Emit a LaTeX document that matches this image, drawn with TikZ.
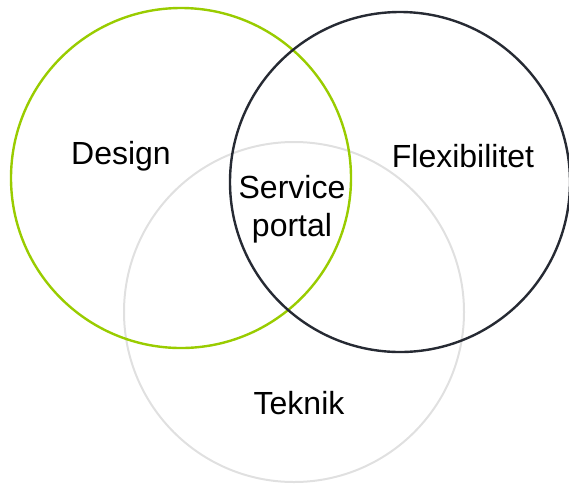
\documentclass[tikz,border=0pt]{standalone}
\usepackage{fontspec}
\setmainfont{Liberation Sans}
\usepackage{xcolor}
\definecolor{designgreen}{RGB}{153,204,0}
\definecolor{flexdark}{RGB}{38,42,51}
\definecolor{teknikgray}{RGB}{224,224,224}
\tikzset{
  ring/.style={circle,draw,minimum size=340pt,inner sep=0pt,line width=2.4pt},
  label/.style={font=\fontsize{32}{38}\selectfont,align=center,inner sep=0pt}
}
\begin{document}
\begin{tikzpicture}[x=1pt,y=-1pt]
\useasboundingbox (0,0) rectangle (569,483);
% the three sets
\node[ring,draw=teknikgray,line width=2pt] (teknik) at (294,312) {};
\node[ring,draw=designgreen] (design) at (181,178) {};
\node[ring,draw=flexdark] (flex) at (400,182) {};
% texts
\node[label] (designtext) at (121,156) {Design};
\node[label] (flextext) at (463,156) {Flexibilitet};
\node[label] (teknictext) at (299,403) {Teknik};
\node[label] (portaltext) at (292,209) {Service\\portal};
\end{tikzpicture}
\end{document}
